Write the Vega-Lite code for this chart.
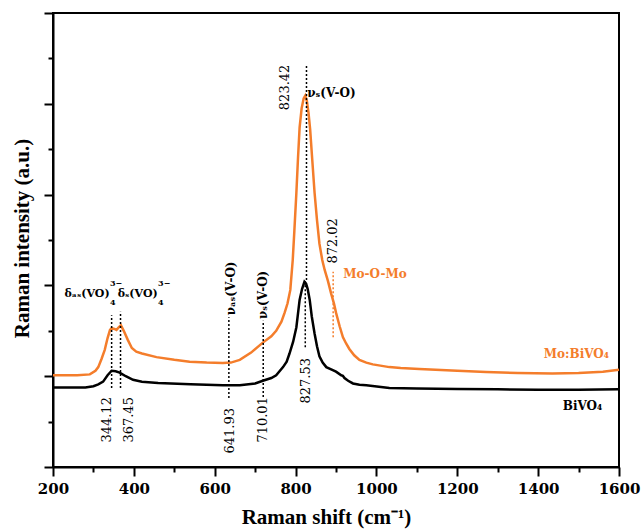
{
  "$schema": "https://vega.github.io/schema/vega-lite/v6.json",
  "width": 566,
  "height": 454,
  "autosize": {"type": "none"},
  "padding": {"left": 53, "top": 13, "right": 24, "bottom": 62},
  "config": {"view": {"stroke": "black", "strokeWidth": 2}, "font": "DejaVu Serif"},
  "datasets": {
    "spectra": [
      {"wn":200,"I":1.01,"s":"Mo:BiVO4"},{"wn":260,"I":1.01,"s":"Mo:BiVO4"},{"wn":291,"I":1.02,"s":"Mo:BiVO4"},{"wn":305,"I":1.06,"s":"Mo:BiVO4"},{"wn":312,"I":1.10,"s":"Mo:BiVO4"},{"wn":320,"I":1.19,"s":"Mo:BiVO4"},{"wn":328,"I":1.29,"s":"Mo:BiVO4"},{"wn":335,"I":1.42,"s":"Mo:BiVO4"},{"wn":341,"I":1.51,"s":"Mo:BiVO4"},{"wn":345,"I":1.53,"s":"Mo:BiVO4"},{"wn":352,"I":1.52,"s":"Mo:BiVO4"},{"wn":357,"I":1.51,"s":"Mo:BiVO4"},{"wn":363,"I":1.54,"s":"Mo:BiVO4"},{"wn":368,"I":1.56,"s":"Mo:BiVO4"},{"wn":375,"I":1.50,"s":"Mo:BiVO4"},{"wn":385,"I":1.40,"s":"Mo:BiVO4"},{"wn":395,"I":1.31,"s":"Mo:BiVO4"},{"wn":406,"I":1.27,"s":"Mo:BiVO4"},{"wn":420,"I":1.25,"s":"Mo:BiVO4"},{"wn":456,"I":1.21,"s":"Mo:BiVO4"},{"wn":500,"I":1.18,"s":"Mo:BiVO4"},{"wn":538,"I":1.16,"s":"Mo:BiVO4"},{"wn":580,"I":1.15,"s":"Mo:BiVO4"},{"wn":620,"I":1.145,"s":"Mo:BiVO4"},{"wn":640,"I":1.15,"s":"Mo:BiVO4"},{"wn":662,"I":1.18,"s":"Mo:BiVO4"},{"wn":690,"I":1.26,"s":"Mo:BiVO4"},{"wn":719,"I":1.37,"s":"Mo:BiVO4"},{"wn":740,"I":1.44,"s":"Mo:BiVO4"},{"wn":752,"I":1.50,"s":"Mo:BiVO4"},{"wn":765,"I":1.60,"s":"Mo:BiVO4"},{"wn":773,"I":1.70,"s":"Mo:BiVO4"},{"wn":780,"I":1.80,"s":"Mo:BiVO4"},{"wn":787,"I":1.95,"s":"Mo:BiVO4"},{"wn":793,"I":2.28,"s":"Mo:BiVO4"},{"wn":797,"I":2.6,"s":"Mo:BiVO4"},{"wn":802,"I":3.02,"s":"Mo:BiVO4"},{"wn":806,"I":3.4,"s":"Mo:BiVO4"},{"wn":810,"I":3.74,"s":"Mo:BiVO4"},{"wn":815,"I":3.95,"s":"Mo:BiVO4"},{"wn":820,"I":4.06,"s":"Mo:BiVO4"},{"wn":824,"I":4.09,"s":"Mo:BiVO4"},{"wn":828,"I":4.03,"s":"Mo:BiVO4"},{"wn":832,"I":3.9,"s":"Mo:BiVO4"},{"wn":836,"I":3.72,"s":"Mo:BiVO4"},{"wn":841,"I":3.4,"s":"Mo:BiVO4"},{"wn":847,"I":3.02,"s":"Mo:BiVO4"},{"wn":853,"I":2.72,"s":"Mo:BiVO4"},{"wn":859,"I":2.46,"s":"Mo:BiVO4"},{"wn":866,"I":2.28,"s":"Mo:BiVO4"},{"wn":872,"I":2.17,"s":"Mo:BiVO4"},{"wn":880,"I":2.05,"s":"Mo:BiVO4"},{"wn":888,"I":1.91,"s":"Mo:BiVO4"},{"wn":895,"I":1.80,"s":"Mo:BiVO4"},{"wn":900,"I":1.70,"s":"Mo:BiVO4"},{"wn":909,"I":1.55,"s":"Mo:BiVO4"},{"wn":917,"I":1.43,"s":"Mo:BiVO4"},{"wn":925,"I":1.36,"s":"Mo:BiVO4"},{"wn":933,"I":1.30,"s":"Mo:BiVO4"},{"wn":945,"I":1.23,"s":"Mo:BiVO4"},{"wn":958,"I":1.18,"s":"Mo:BiVO4"},{"wn":975,"I":1.15,"s":"Mo:BiVO4"},{"wn":991,"I":1.13,"s":"Mo:BiVO4"},{"wn":1032,"I":1.10,"s":"Mo:BiVO4"},{"wn":1060,"I":1.09,"s":"Mo:BiVO4"},{"wn":1106,"I":1.08,"s":"Mo:BiVO4"},{"wn":1200,"I":1.06,"s":"Mo:BiVO4"},{"wn":1271,"I":1.045,"s":"Mo:BiVO4"},{"wn":1350,"I":1.035,"s":"Mo:BiVO4"},{"wn":1435,"I":1.03,"s":"Mo:BiVO4"},{"wn":1500,"I":1.035,"s":"Mo:BiVO4"},{"wn":1560,"I":1.05,"s":"Mo:BiVO4"},{"wn":1600,"I":1.07,"s":"Mo:BiVO4"},
      {"wn":200,"I":0.875,"s":"BiVO4"},{"wn":280,"I":0.875,"s":"BiVO4"},{"wn":300,"I":0.89,"s":"BiVO4"},{"wn":312,"I":0.91,"s":"BiVO4"},{"wn":324,"I":0.94,"s":"BiVO4"},{"wn":335,"I":1.01,"s":"BiVO4"},{"wn":345,"I":1.06,"s":"BiVO4"},{"wn":355,"I":1.055,"s":"BiVO4"},{"wn":365,"I":1.04,"s":"BiVO4"},{"wn":380,"I":1.00,"s":"BiVO4"},{"wn":398,"I":0.96,"s":"BiVO4"},{"wn":420,"I":0.94,"s":"BiVO4"},{"wn":460,"I":0.925,"s":"BiVO4"},{"wn":540,"I":0.91,"s":"BiVO4"},{"wn":620,"I":0.90,"s":"BiVO4"},{"wn":662,"I":0.90,"s":"BiVO4"},{"wn":700,"I":0.92,"s":"BiVO4"},{"wn":719,"I":0.95,"s":"BiVO4"},{"wn":740,"I":0.98,"s":"BiVO4"},{"wn":752,"I":1.01,"s":"BiVO4"},{"wn":769,"I":1.10,"s":"BiVO4"},{"wn":778,"I":1.16,"s":"BiVO4"},{"wn":785,"I":1.25,"s":"BiVO4"},{"wn":794,"I":1.38,"s":"BiVO4"},{"wn":802,"I":1.54,"s":"BiVO4"},{"wn":810,"I":1.84,"s":"BiVO4"},{"wn":816,"I":1.96,"s":"BiVO4"},{"wn":822,"I":2.04,"s":"BiVO4"},{"wn":826,"I":2.02,"s":"BiVO4"},{"wn":830,"I":1.96,"s":"BiVO4"},{"wn":835,"I":1.84,"s":"BiVO4"},{"wn":840,"I":1.66,"s":"BiVO4"},{"wn":847,"I":1.47,"s":"BiVO4"},{"wn":853,"I":1.33,"s":"BiVO4"},{"wn":859,"I":1.22,"s":"BiVO4"},{"wn":867,"I":1.15,"s":"BiVO4"},{"wn":876,"I":1.10,"s":"BiVO4"},{"wn":888,"I":1.075,"s":"BiVO4"},{"wn":900,"I":1.05,"s":"BiVO4"},{"wn":913,"I":1.01,"s":"BiVO4"},{"wn":917,"I":1.005,"s":"BiVO4"},{"wn":921,"I":0.98,"s":"BiVO4"},{"wn":930,"I":0.95,"s":"BiVO4"},{"wn":942,"I":0.92,"s":"BiVO4"},{"wn":958,"I":0.905,"s":"BiVO4"},{"wn":975,"I":0.90,"s":"BiVO4"},{"wn":1032,"I":0.87,"s":"BiVO4"},{"wn":1100,"I":0.865,"s":"BiVO4"},{"wn":1200,"I":0.86,"s":"BiVO4"},{"wn":1300,"I":0.855,"s":"BiVO4"},{"wn":1400,"I":0.85,"s":"BiVO4"},{"wn":1500,"I":0.85,"s":"BiVO4"},{"wn":1600,"I":0.855,"s":"BiVO4"}
    ],
    "blackLines": [
      {"x":345,"y1":0.87,"y2":1.67},{"x":367,"y1":0.87,"y2":1.71},{"x":635,"y1":0.76,"y2":1.65},{"x":720,"y1":0.77,"y2":1.61},{"x":824,"y1":1.32,"y2":2.06},{"x":827,"y1":2.06,"y2":4.42}
    ],
    "orangeLines": [{"x":893,"y1":1.43,"y2":2.15}],
    "numBelow": [
      {"x":334,"y":0.77,"t":"344.12"},{"x":388,"y":0.77,"t":"367.45"},{"x":638,"y":0.65,"t":"641.93"},{"x":719,"y":0.77,"t":"710.01"},{"x":825,"y":1.20,"t":"827.53"}
    ],
    "numAbove": [{"x":774,"y":3.93,"t":"823.42"},{"x":893,"y":2.24,"t":"872.02"}],
    "rotLabels": [{"x":640,"y":1.67,"t":"νₐₛ(V-O)"},{"x":720,"y":1.63,"t":"νₛ(V-O)"}],
    "deltaLabels": [{"x":340,"y":1.91,"t":"δₐₛ(VO)"},{"x":459,"y":1.91,"t":"δₛ(VO)"}],
    "subScripts": [{"x":341,"y":1.81,"t":"4"},{"x":460,"y":1.81,"t":"4"}],
    "supScripts": [{"x":341,"y":2.02,"t":"3−"},{"x":460,"y":2.02,"t":"3−"}],
    "blackLabels": [
      {"x":829,"y":4.12,"t":"νₛ(V-O)"},{"x":1461,"y":0.67,"t":"BiVO₄"}
    ],
    "orangeLabels": [{"x":918,"y":2.13,"t":"Mo-O-Mo"},{"x":1414,"y":1.25,"t":"Mo:BiVO₄"}]
  },
  "layer": [
    {
      "data": {"name": "spectra"},
      "mark": {"type": "line", "strokeWidth": 2.5},
      "encoding": {
        "x": {"field": "wn", "type": "quantitative",
          "scale": {"domain": [200, 1600], "nice": false, "zero": false},
          "axis": {"title": "Raman shift (cm⁻¹)", "format": "d", "values": [200,300,400,500,600,700,800,900,1000,1100,1200,1300,1400,1500,1600],
            "labelExpr": "datum.value % 200 === 0 ? datum.label : ''",
            "labelFont": "DejaVu Serif", "labelFontWeight": "bold", "labelFontSize": 15, "labelColor": "black",
            "labelPadding": 5, "labelFlush": false, "labelOverlap": false,
            "tickColor": "black", "tickWidth": 2,
            "tickSize": {"condition": {"test": "datum.value % 200 === 0", "value": 9}, "value": 5},
            "domainColor": "black", "domainWidth": 2, "grid": false,
            "titleFont": "Liberation Serif", "titleFontSize": 21, "titleFontWeight": "bold", "titleColor": "black",
            "titleX": 273, "titleY": 56, "titleBaseline": "alphabetic"}},
        "y": {"field": "I", "type": "quantitative",
          "scale": {"domain": [0, 5], "nice": false},
          "axis": {"title": "Raman intensity (a.u.)", "values": [0,0.5,1,1.5,2,2.5,3,3.5,4,4.5,5], "labels": false,
            "tickColor": "black", "tickWidth": 2,
            "tickSize": {"condition": {"test": "datum.value % 1 === 0", "value": 9}, "value": 5},
            "domainColor": "black", "domainWidth": 2, "grid": false,
            "titleFont": "Liberation Serif", "titleFontSize": 21, "titleFontWeight": "bold", "titleColor": "black",
            "titleX": -25, "titleY": 225, "titleAngle": 270, "titleBaseline": "alphabetic"}},
        "color": {"field": "s", "type": "nominal", "scale": {"domain": ["Mo:BiVO4", "BiVO4"], "range": ["#F47D2B", "black"]}, "legend": null},
        "order": {"field": "wn", "type": "quantitative"}
      }
    },
    {
      "data": {"name": "blackLines"},
      "mark": {"type": "rule", "color": "black", "strokeWidth": 1.5, "strokeDash": [2, 2]},
      "encoding": {"x": {"field": "x", "type": "quantitative"}, "y": {"field": "y1", "type": "quantitative"}, "y2": {"field": "y2"}}
    },
    {
      "data": {"name": "orangeLines"},
      "mark": {"type": "rule", "color": "#F47D2B", "strokeWidth": 1.5, "strokeDash": [2, 2]},
      "encoding": {"x": {"field": "x", "type": "quantitative"}, "y": {"field": "y1", "type": "quantitative"}, "y2": {"field": "y2"}}
    },
    {
      "data": {"name": "numBelow"},
      "mark": {"type": "text", "angle": 270, "align": "right", "baseline": "middle", "font": "DejaVu Serif", "fontSize": 13, "color": "black"},
      "encoding": {"x": {"field": "x", "type": "quantitative"}, "y": {"field": "y", "type": "quantitative"}, "text": {"field": "t"}}
    },
    {
      "data": {"name": "numAbove"},
      "mark": {"type": "text", "angle": 270, "align": "left", "baseline": "middle", "font": "DejaVu Serif", "fontSize": 13, "color": "black"},
      "encoding": {"x": {"field": "x", "type": "quantitative"}, "y": {"field": "y", "type": "quantitative"}, "text": {"field": "t"}}
    },
    {
      "data": {"name": "rotLabels"},
      "mark": {"type": "text", "angle": 270, "align": "left", "baseline": "middle", "font": "DejaVu Serif", "fontWeight": "bold", "fontSize": 12, "color": "black"},
      "encoding": {"x": {"field": "x", "type": "quantitative"}, "y": {"field": "y", "type": "quantitative"}, "text": {"field": "t"}}
    },
    {
      "data": {"name": "deltaLabels"},
      "mark": {"type": "text", "align": "right", "baseline": "middle", "font": "DejaVu Serif", "fontWeight": "bold", "fontSize": 11, "color": "black"},
      "encoding": {"x": {"field": "x", "type": "quantitative"}, "y": {"field": "y", "type": "quantitative"}, "text": {"field": "t"}}
    },
    {
      "data": {"name": "subScripts"},
      "mark": {"type": "text", "align": "left", "baseline": "middle", "font": "DejaVu Serif", "fontWeight": "bold", "fontSize": 8, "color": "black"},
      "encoding": {"x": {"field": "x", "type": "quantitative"}, "y": {"field": "y", "type": "quantitative"}, "text": {"field": "t"}}
    },
    {
      "data": {"name": "supScripts"},
      "mark": {"type": "text", "align": "left", "baseline": "middle", "font": "DejaVu Serif", "fontWeight": "bold", "fontSize": 8, "color": "black"},
      "encoding": {"x": {"field": "x", "type": "quantitative"}, "y": {"field": "y", "type": "quantitative"}, "text": {"field": "t"}}
    },
    {
      "data": {"name": "blackLabels"},
      "mark": {"type": "text", "align": "left", "baseline": "middle", "font": "DejaVu Serif", "fontWeight": "bold", "fontSize": 12, "color": "black"},
      "encoding": {"x": {"field": "x", "type": "quantitative"}, "y": {"field": "y", "type": "quantitative"}, "text": {"field": "t"}}
    },
    {
      "data": {"name": "orangeLabels"},
      "mark": {"type": "text", "align": "left", "baseline": "middle", "font": "DejaVu Serif", "fontWeight": "bold", "fontSize": 12, "color": "#F47D2B"},
      "encoding": {"x": {"field": "x", "type": "quantitative"}, "y": {"field": "y", "type": "quantitative"}, "text": {"field": "t"}}
    }
  ]
}
